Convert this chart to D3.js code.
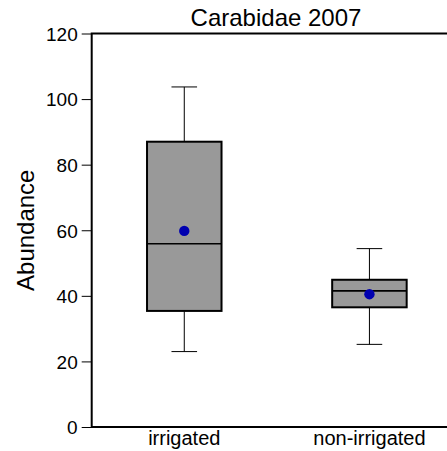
<!DOCTYPE html>
<meta charset="utf-8">
<title>Carabidae 2007</title>
<style>
body { margin: 0; background: #fff; }
svg { display: block; font-family: "Liberation Sans", Helvetica, Arial, sans-serif; }
</style>
<script src="https://d3js.org/d3.v7.min.js"></script>
<body>
<script>
// data
var groups = ["irrigated", "non-irrigated"];
var whiskerLow = [23.0, 25.2];
var q1 = [35.4, 36.5];
var median = [55.9, 41.5];
var q3 = [87.0, 44.9];
var whiskerHigh = [103.7, 54.4];
var means = [59.8, 40.5];
var yTicks = [0, 20, 40, 60, 80, 100, 120];

var width = 447, height = 451;
var plotLeft = 91.7, plotTop = 33.5, plotBottom = 427, plotRight = 462;

var svg = d3.select("body").append("svg")
    .attr("width", width)
    .attr("height", height);

var x = d3.scaleBand().domain(groups).range([plotLeft, plotRight]);
var y = d3.scaleLinear().domain([0, 120]).range([plotBottom, plotTop]);
var boxW = 74.5, capW = 25.6;

// y axis ticks + labels
var yAxis = svg.append("g").attr("transform", "translate(" + plotLeft + ",0)")
    .call(d3.axisLeft(y).tickValues(yTicks).tickSize(10).tickPadding(4));
yAxis.select(".domain").remove();
yAxis.selectAll(".tick line").attr("stroke", "#000").attr("stroke-width", 1);
yAxis.selectAll(".tick text")
    .attr("fill", "#000")
    .style("font-size", "19px")
    .attr("dy", "0.36em");

// frame: left, bottom and top lines
svg.append("path")
    .attr("d", "M" + plotRight + "," + plotTop + "H" + plotLeft + "V" + plotBottom + "H" + plotRight)
    .attr("fill", "none")
    .attr("stroke", "#000")
    .attr("stroke-width", 2);

// x labels
svg.selectAll("text.cat")
    .data(groups)
  .enter().append("text")
    .attr("class", "cat")
    .attr("x", function(d) { return x(d) + x.bandwidth() / 2; })
    .attr("y", 445)
    .attr("text-anchor", "middle")
    .style("font-size", "20px")
    .text(function(d) { return d; });

var g = svg.selectAll("g.box")
    .data(groups)
  .enter().append("g")
    .attr("class", "box")
    .attr("transform", function(d) { return "translate(" + (x(d) + x.bandwidth() / 2) + ",0)"; });

// whiskers
g.append("line")
    .attr("y1", function(d, i) { return y(whiskerHigh[i]); })
    .attr("y2", function(d, i) { return y(q3[i]); })
    .attr("stroke", "#000");
g.append("line")
    .attr("y1", function(d, i) { return y(q1[i]); })
    .attr("y2", function(d, i) { return y(whiskerLow[i]); })
    .attr("stroke", "#000");
g.append("line")
    .attr("x1", -capW / 2).attr("x2", capW / 2)
    .attr("y1", function(d, i) { return y(whiskerHigh[i]); })
    .attr("y2", function(d, i) { return y(whiskerHigh[i]); })
    .attr("stroke", "#000");
g.append("line")
    .attr("x1", -capW / 2).attr("x2", capW / 2)
    .attr("y1", function(d, i) { return y(whiskerLow[i]); })
    .attr("y2", function(d, i) { return y(whiskerLow[i]); })
    .attr("stroke", "#000");

// boxes
g.append("rect")
    .attr("x", -boxW / 2)
    .attr("width", boxW)
    .attr("y", function(d, i) { return y(q3[i]); })
    .attr("height", function(d, i) { return y(q1[i]) - y(q3[i]); })
    .attr("fill", "#999999")
    .attr("stroke", "#000")
    .attr("stroke-width", 2);

// medians
g.append("line")
    .attr("x1", -boxW / 2).attr("x2", boxW / 2)
    .attr("y1", function(d, i) { return y(median[i]); })
    .attr("y2", function(d, i) { return y(median[i]); })
    .attr("stroke", "#000")
    .attr("stroke-width", 1.6);

// means
g.append("circle")
    .attr("cy", function(d, i) { return y(means[i]); })
    .attr("r", 5.2)
    .attr("fill", "#0000b0");

// title
svg.append("text")
    .attr("x", 276)
    .attr("y", 26)
    .attr("text-anchor", "middle")
    .style("font-size", "24px")
    .text("Carabidae 2007");

// y label
svg.append("text")
    .attr("transform", "translate(34," + ((plotTop + plotBottom) / 2) + ") rotate(-90)")
    .attr("text-anchor", "middle")
    .style("font-size", "24px")
    .text("Abundance");
</script>
</body>
